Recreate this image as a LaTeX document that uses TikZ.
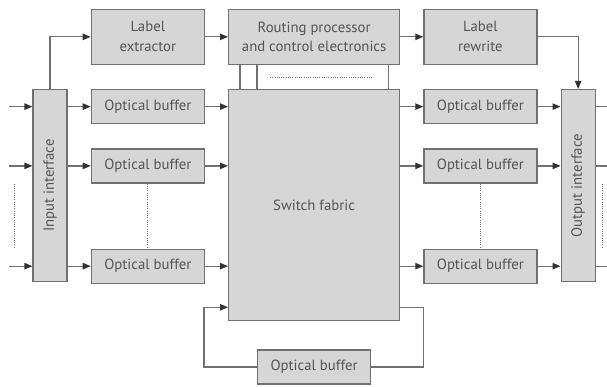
\documentclass[tikz,border=0pt]{standalone}
\usepackage{fontspec}
\setmainfont{PT Sans}
\usepackage{tikz}
\usetikzlibrary{arrows.meta,calc,positioning}
\definecolor{boxgray}{rgb}{0.84,0.84,0.84}
\definecolor{edgegray}{rgb}{0.44,0.44,0.44}
\definecolor{textgray}{rgb}{0.33,0.33,0.33}
\tikzset{
  unit/.style={
    draw=edgegray,
    fill=boxgray,
    line width=0.9pt,
    align=center,
    text=textgray,
    inner sep=2pt,
    minimum width=2.825cm,
    minimum height=1.375cm,
    font=\fontsize{10.5}{14.2}\selectfont
  },
  buffer/.style={
    unit,
    minimum height=0.85cm
  },
  port/.style={
    unit,
    minimum width=0.85cm,
    minimum height=4.8cm
  },
  line/.style={
    draw=edgegray,
    line width=0.9pt
  },
  arrow/.style={
    line,
    -{Triangle[length=2mm,width=1.6mm,color=black!80]}
  },
  gap/.style={
    draw=edgegray,
    line width=0.6pt,
    densely dotted
  }
}
\begin{document}
\begin{tikzpicture}[node distance=0.6cm and 0.575cm]
\useasboundingbox (0,0) rectangle (15.175,-9.675);
\node[unit, minimum width=4.275cm, minimum height=5.775cm, anchor=north west] (sw) at (5.7,-2.225) {Switch fabric};
\node[unit, minimum width=4.275cm, above=of sw] (rp) {Routing processor\\and control electronics};
\node[buffer, left=of sw.north west, anchor=north east] (b1) {Optical buffer};
\node[buffer, below=of b1] (b2) {Optical buffer};
\node[buffer, below=1.625cm of b2] (b3) {Optical buffer};
\node[unit, above=of b1] (lx) {Label\\extractor};
\node[port, left=of b1.north west, anchor=north east] (inp) {\rotatebox{90}{Input interface}};
\node[buffer, right=of sw.north east, anchor=north west] (r1) {Optical buffer};
\node[buffer, below=of r1] (r2) {Optical buffer};
\node[buffer, below=1.625cm of r2] (r3) {Optical buffer};
\node[unit, above=of r1] (rw) {Label\\rewrite};
\node[port, right=of r1.north east, anchor=north west] (out) {\rotatebox{90}{Output interface}};
\node[buffer, below=0.7cm of sw] (ob) {Optical buffer};
\draw[arrow] (inp.north) |- (lx);
\draw[arrow] (lx) -- (rp);
\draw[arrow] (rp) -- (rw);
\draw[arrow] (rw) -| (out);
\foreach \n in {1,2,3} {
  \coordinate (in\n) at ($(b\n -| inp.west)+(-0.575,0)$);
  \coordinate (dn\n) at ($(r\n -| out.east)+(0.35,0)$);
  \draw[arrow] (in\n) -- (in\n -| inp.west);
  \draw[arrow] (inp.east |- b\n) -- (b\n);
  \draw[arrow] (b\n) -- (b\n -| sw.west);
  \draw[arrow] (sw.east |- r\n) -- (r\n);
  \draw[arrow] (r\n) -- (r\n -| out.west);
  \draw[line] (out.east |- r\n) -- (dn\n);
}
\draw[gap] (b2) -- (b3);
\draw[gap] (r2) -- (r3);
\coordinate (lt) at ($(inp.west |- b2.south)+(-0.45,0)$);
\coordinate (rt) at ($(out.east |- r2.south)+(0.175,0)$);
\draw[gap] (lt) -- (lt |- b3.north);
\draw[gap] (rt) -- (rt |- r3.north);
\draw[line] ($(rp.south west)+(0.3,0)$) -- ($(sw.north west)+(0.3,0)$);
\draw[line] ($(rp.south west)+(0.725,0)$) -- ($(sw.north west)+(0.725,0)$);
\draw[line] ($(rp.south east)+(-0.3,0)$) -- ($(sw.north east)+(-0.3,0)$);
\coordinate (cl) at ($(rp.south west)!0.5!(sw.north west)+(1.05,0)$);
\coordinate (cr) at ($(rp.south east)!0.5!(sw.north east)+(-0.675,0)$);
\draw[gap] (cl) -- (cr);
\draw[line] ($(sw.south east)+(0,0.35)$) -| ($(ob.east)+(1.3,0)$) -- (ob.east);
\draw[arrow] (ob.west) -| ($(sw.south west)+(-0.6,0.35)$) -- ($(sw.south west)+(0,0.35)$);
\end{tikzpicture}
\end{document}
